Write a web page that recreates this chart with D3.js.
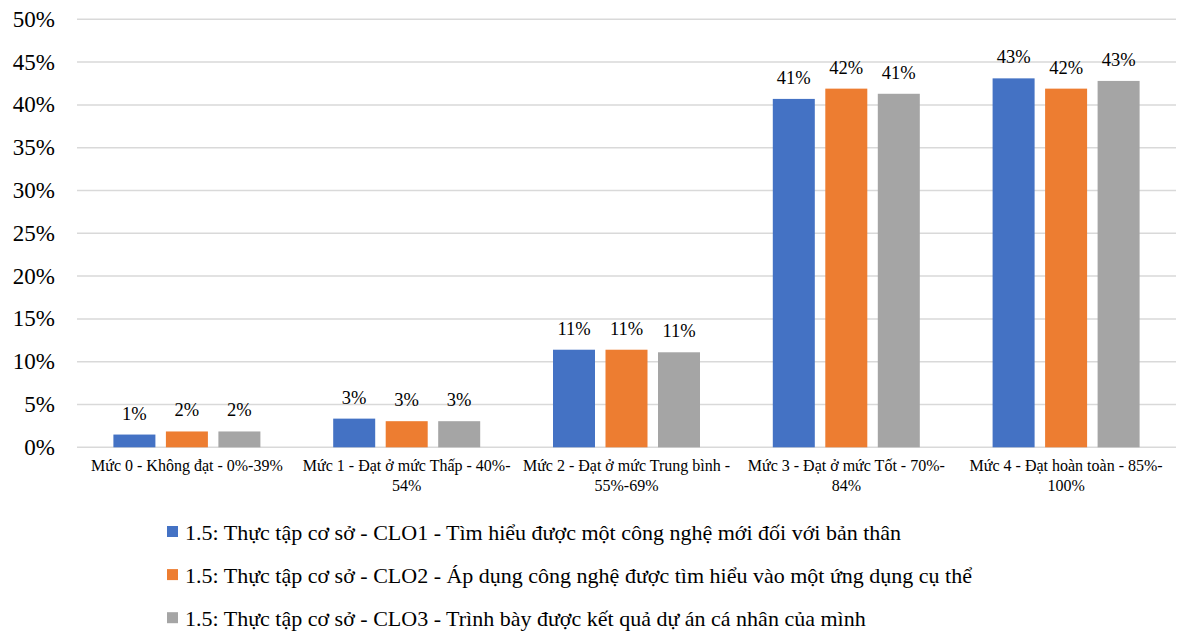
<!DOCTYPE html>
<html><head><meta charset="utf-8">
<script src="https://cdn.jsdelivr.net/npm/d3@7"></script>
<style>
body{margin:0;background:#fff}
svg{display:block}
</style>
</head><body><svg id="c" width="1179" height="632"></svg>
<script>
const categories = [
  "Mức 0 - Không đạt - 0%-39%",
  "Mức 1 - Đạt ở mức Thấp - 40%-\n54%",
  "Mức 2 - Đạt ở mức Trung bình -\n55%-69%",
  "Mức 3 - Đạt ở mức Tốt - 70%-\n84%",
  "Mức 4 - Đạt hoàn toàn - 85%-\n100%"
];
const seriesNames = [
  "1.5: Thực tập cơ sở - CLO1 - Tìm hiểu được một công nghệ mới đối với bản thân",
  "1.5: Thực tập cơ sở - CLO2 - Áp dụng công nghệ được tìm hiểu vào một ứng dụng cụ thể",
  "1.5: Thực tập cơ sở - CLO3 - Trình bày được kết quả dự án cá nhân của mình"
];
const clo1 = [1.49, 3.35, 11.4, 40.7, 43.1];
const clo2 = [1.85, 3.05, 11.4, 41.9, 41.9];
const clo3 = [1.85, 3.05, 11.1, 41.3, 42.8];
const colors = ["#4472C4", "#ED7D31", "#A5A5A5"];
const yTicks = [0, 5, 10, 15, 20, 25, 30, 35, 40, 45, 50];

const FONT = "'Liberation Serif'";
const series = [clo1, clo2, clo3];
const svg = d3.select("#c");
const pL = 77, pR = 1176, pT = 19.3, pB = 447.3;

const x0 = d3.scaleBand().domain(d3.range(categories.length)).range([pL, pR]).paddingInner(0).paddingOuter(0);
const x1 = d3.scaleBand().domain(d3.range(series.length)).range([0, 147]).paddingInner(0.2).paddingOuter(0);
const groupW = x1.step() * 2 + x1.bandwidth();
const groupOffset = (x0.bandwidth() - groupW) / 2;
const y = d3.scaleLinear().domain([0, 50]).range([pB, pT]);

// gridlines
svg.selectAll("line.grid").data(yTicks).join("line").attr("class", "grid")
  .attr("x1", pL).attr("x2", pR)
  .attr("y1", d => y(d)).attr("y2", d => y(d))
  .attr("stroke", "#D9D9D9").attr("stroke-width", 1.5);

// y labels
svg.selectAll("text.ylab").data(yTicks).join("text").attr("class", "ylab")
  .attr("x", 55).attr("y", d => y(d) + 7.5)
  .attr("text-anchor", "end")
  .attr("font-family", FONT).attr("font-size", 23)
  .text(d => d + "%");

// bars and labels
series.forEach((vals, si) => {
  svg.selectAll("rect.s" + si).data(vals).join("rect").attr("class", "s" + si)
    .attr("x", (d, i) => x0(i) + groupOffset + x1(si))
    .attr("y", d => y(d))
    .attr("width", x1.bandwidth())
    .attr("height", d => y(0) - y(d))
    .attr("fill", colors[si]);
  svg.selectAll("text.l" + si).data(vals).join("text").attr("class", "l" + si)
    .attr("x", (d, i) => x0(i) + groupOffset + x1(si) + x1.bandwidth() / 2)
    .attr("y", d => y(d) - 15)
    .attr("text-anchor", "middle")
    .attr("font-family", FONT).attr("font-size", 18.5)
    .text(d => Math.round(d) + "%");
});

// x labels (one text per line)
const xLines = [];
categories.forEach((c, i) => c.split("\n").forEach((line, k) => xLines.push({i, k, line})));
svg.selectAll("text.xlab").data(xLines).join("text").attr("class", "xlab")
  .attr("x", d => x0(d.i) + x0.bandwidth() / 2)
  .attr("y", d => 471 + d.k * 20)
  .attr("text-anchor", "middle")
  .attr("font-family", FONT).attr("font-size", 16)
  .text(d => d.line);

// legend
svg.selectAll("rect.leg").data(seriesNames).join("rect").attr("class", "leg")
  .attr("x", 167).attr("y", (d, i) => 526 + i * 43.1)
  .attr("width", 11).attr("height", 11)
  .attr("fill", (d, i) => colors[i]);
svg.selectAll("text.leg").data(seriesNames).join("text").attr("class", "leg")
  .attr("x", 185).attr("y", (d, i) => 540 + i * 43.1)
  .attr("font-family", FONT).attr("font-size", 22)
  .text(d => d);
</script></body></html>
